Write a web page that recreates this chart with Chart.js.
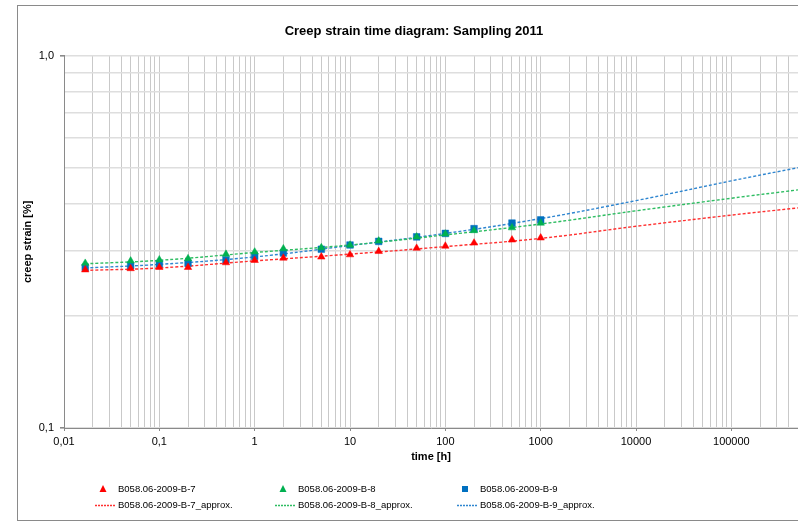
<!DOCTYPE html>
<html>
<head>
<meta charset="utf-8">
<script src="https://cdn.jsdelivr.net/npm/chart.js@4/dist/chart.umd.min.js"></script>
<style>
  html, body { margin: 0; padding: 0; background: #fff; }
  #wrap { position: relative; width: 798px; height: 525px; overflow: hidden; }
  #frame { position: absolute; left: 17px; top: 5px; width: 800px; height: 514px;
           border-left: 1px solid #8a8a8a; border-top: 1px solid #8a8a8a; border-bottom: 1px solid #8a8a8a; }
  canvas { position: absolute; left: 0; top: 0; }
</style>
</head>
<body>
<div id="wrap">
  <div id="frame"></div>
  <canvas id="c" width="798" height="525"></canvas>
</div>
<script>
// ---- data ----
const chartTitle = 'Creep strain time diagram: Sampling 2011';
const xAxisTitle = 'time [h]';
const yAxisTitle = 'creep strain [%]';

const measureTimes = [0.0167, 0.05, 0.1, 0.2, 0.5, 1, 2, 5, 10, 20, 50, 100, 200, 500, 1000];
const strainB7 = [0.266, 0.268, 0.270, 0.270, 0.278, 0.282, 0.286, 0.288, 0.292, 0.298, 0.304, 0.308, 0.314, 0.320, 0.324];
const strainB8 = [0.277, 0.281, 0.283, 0.285, 0.293, 0.297, 0.303, 0.305, 0.310, 0.318, 0.326, 0.332, 0.339, 0.345, 0.355];
const strainB9 = [0.270, 0.273, 0.276, 0.277, 0.283, 0.289, 0.295, 0.302, 0.310, 0.317, 0.326, 0.333, 0.343, 0.355, 0.362];

const approxTimes = [0.0167, 0.1, 1, 10, 100, 1000, 10000, 100000, 500000];
const approxB7 = [0.265, 0.269, 0.281, 0.293, 0.307, 0.323, 0.348, 0.373, 0.390];
const approxB8 = [0.276, 0.282, 0.296, 0.310, 0.330, 0.353, 0.383, 0.414, 0.436];
const approxB9 = [0.269, 0.275, 0.288, 0.309, 0.333, 0.365, 0.408, 0.461, 0.500];

const seriesNames = ['B058.06-2009-B-7', 'B058.06-2009-B-8', 'B058.06-2009-B-9',
                     'B058.06-2009-B-7_approx.', 'B058.06-2009-B-8_approx.', 'B058.06-2009-B-9_approx.'];

const xTickValues = [0.01, 0.1, 1, 10, 100, 1000, 10000, 100000];
const xTickLabels = ['0,01', '0,1', '1', '10', '100', '1000', '10000', '100000'];
const yTickValues = [0.1, 1];
const yTickLabels = ['0,1', '1,0'];
const xMin = 0.01, xMax = 500000, yMin = 0.1, yMax = 1;

// ---- helpers ----
const pts = (xs, ys) => xs.map((x, i) => ({ x: x, y: ys[i] }));
function gridValues(min, max) {
  const out = [];
  for (let e = Math.floor(Math.log10(min)); e <= Math.ceil(Math.log10(max)); e++) {
    for (let m = 1; m <= 9; m++) {
      const v = parseFloat((m * Math.pow(10, e)).toPrecision(6));
      if (v >= min * 0.9999 && v <= max * 1.0001) out.push(v);
    }
  }
  return out;
}
function labelFor(v, vals, labels) {
  for (let i = 0; i < vals.length; i++) if (Math.abs(v - vals[i]) / vals[i] < 1e-6) return labels[i];
  return '';
}

const FONT = "'Liberation Sans', Arial, sans-serif";
const RED = '#ff0000', GREEN = '#00b050', BLUE = '#0070c0';
const RED_L = '#ff3030', GREEN_L = '#2ebd62', BLUE_L = '#2f86d0';

const legendPlugin = {
  id: 'gridLegend',
  afterDraw(chart) {
    const ctx = chart.ctx;
    const colX = [103, 283, 465];
    const rowY = [489, 505];
    ctx.save();
    ctx.font = '9.5px ' + FONT;
    ctx.textBaseline = 'middle';
    chart.data.datasets.forEach((ds, i) => {
      const row = Math.floor(i / 3), col = i % 3;
      const cx = colX[col], cy = rowY[row];
      if (row === 0) {
        ctx.fillStyle = ds.backgroundColor;
        ctx.beginPath();
        if (ds.pointStyle === 'triangle') {
          ctx.moveTo(cx, cy - 4); ctx.lineTo(cx + 3.5, cy + 3); ctx.lineTo(cx - 3.5, cy + 3);
        } else {
          ctx.rect(cx - 3, cy - 3, 6, 6);
        }
        ctx.closePath(); ctx.fill();
      } else {
        ctx.strokeStyle = ds.borderColor;
        ctx.lineWidth = 1.3;
        ctx.setLineDash([2, 1]);
        ctx.beginPath(); ctx.moveTo(cx - 8, cy + 0.5); ctx.lineTo(cx + 13, cy + 0.5); ctx.stroke();
        ctx.setLineDash([]);
      }
      ctx.fillStyle = '#000';
      ctx.fillText(ds.label, cx + 15, cy);
    });
    ctx.restore();
  }
};

const pointDs = (label, data, color, style, r) => ({
  label, data, showLine: false, pointStyle: style, pointRadius: r, pointHoverRadius: r,
  backgroundColor: color, borderColor: color, pointBorderWidth: 0.5
});
const lineDs = (label, data, color) => ({
  label, data, showLine: true, pointRadius: 0, borderColor: color, backgroundColor: color,
  borderWidth: 1.4, borderDash: [3, 2], tension: 0.4, fill: false
});

new Chart(document.getElementById('c'), {
  type: 'scatter',
  data: {
    datasets: [
      pointDs(seriesNames[0], pts(measureTimes, strainB7), RED, 'triangle', 4.3),
      pointDs(seriesNames[1], pts(measureTimes, strainB8), GREEN, 'triangle', 4.3),
      pointDs(seriesNames[2], pts(measureTimes, strainB9), BLUE, 'rect', 4.7),
      lineDs(seriesNames[3], pts(approxTimes, approxB7), RED_L),
      lineDs(seriesNames[4], pts(approxTimes, approxB8), GREEN_L),
      lineDs(seriesNames[5], pts(approxTimes, approxB9), BLUE_L)
    ]
  },
  options: {
    responsive: false,
    animation: false,
    layout: { autoPadding: false, padding: { left: 30, right: 0, top: 4, bottom: 57 } },
    plugins: {
      legend: { display: false },
      tooltip: { enabled: false },
      title: {
        display: true, text: chartTitle, color: '#000',
        font: { family: FONT, size: 13, weight: 'bold' },
        padding: { top: 20, bottom: 16 }
      }
    },
    scales: {
      x: {
        type: 'logarithmic', min: xMin, max: xMax,
        afterBuildTicks: s => { s.ticks = gridValues(xMin, xMax).map(v => ({ value: v })); },
        afterFit: s => { s.height = 40; s.paddingRight = 0; s.paddingLeft = 0; },
        ticks: {
          autoSkip: false, maxRotation: 0, color: '#000', padding: 4,
          font: { family: FONT, size: 11 },
          callback: v => labelFor(v, xTickValues, xTickLabels)
        },
        grid: {
          color: '#c9c9c9', lineWidth: 1, tickLength: 3,
          tickColor: c => labelFor(c.tick.value, xTickValues, xTickLabels) ? '#8a8a8a' : 'rgba(0,0,0,0)'
        },
        border: { color: '#8a8a8a', width: 1 },
        title: {
          display: true, text: xAxisTitle, color: '#000',
          font: { family: FONT, size: 11, weight: 'bold' }, padding: { top: 2, bottom: 4 }
        }
      },
      y: {
        type: 'logarithmic', min: yMin, max: yMax,
        afterBuildTicks: s => { s.ticks = gridValues(yMin, yMax).map(v => ({ value: v })); },
        afterFit: s => { s.width = 34; },
        ticks: {
          autoSkip: false, color: '#000', padding: 6,
          font: { family: FONT, size: 11 },
          callback: v => labelFor(v, yTickValues, yTickLabels)
        },
        grid: {
          color: '#dedede', lineWidth: 1.6, tickLength: 4,
          tickColor: c => labelFor(c.tick.value, yTickValues, yTickLabels) ? '#8a8a8a' : 'rgba(0,0,0,0)'
        },
        border: { color: '#8a8a8a', width: 1 },
        title: {
          display: true, text: yAxisTitle, color: '#000',
          font: { family: FONT, size: 11, weight: 'bold' }, padding: { top: -9, bottom: 0 }
        }
      }
    }
  },
  plugins: [legendPlugin]
});
</script>
</body>
</html>
